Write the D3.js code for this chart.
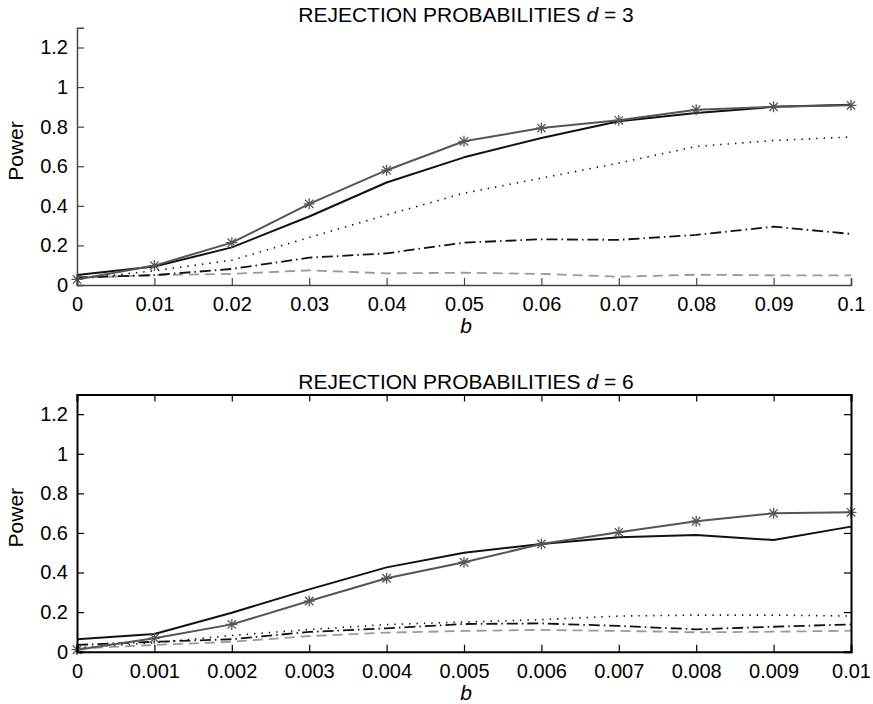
<!DOCTYPE html>
<html lang="en">
<head>
    <meta charset="UTF-8">
    <title>Rejection probabilities</title>
    <script src="https://d3js.org/d3.v7.min.js"></script>
    <style>
        body { margin: 0; background: #fff; }
        svg { display: block; font-family: "Liberation Sans", Arial, Helvetica, sans-serif; }
    </style>
</head>
<body>
<div id="chart"></div>
<script>
// b values on the x axis
const bTop = [0, 0.01, 0.02, 0.03, 0.04, 0.05, 0.06, 0.07, 0.08, 0.09, 0.1];
const bBottom = [0, 0.001, 0.002, 0.003, 0.004, 0.005, 0.006, 0.007, 0.008, 0.009, 0.01];

// d = 3 panel
const starTop    = [0.028, 0.098, 0.214, 0.41, 0.58, 0.726, 0.793, 0.832, 0.886, 0.90, 0.908];
const solidTop   = [0.05, 0.093, 0.19, 0.346, 0.518, 0.645, 0.743, 0.827, 0.869, 0.90, 0.911];
const dottedTop  = [0.03, 0.072, 0.125, 0.24, 0.354, 0.464, 0.54, 0.616, 0.70, 0.73, 0.748];
const dashDotTop = [0.038, 0.05, 0.081, 0.138, 0.16, 0.214, 0.231, 0.228, 0.253, 0.295, 0.258];
const dashedTop  = [0.036, 0.05, 0.056, 0.074, 0.059, 0.062, 0.056, 0.042, 0.052, 0.049, 0.049];

// d = 6 panel
const starBottom    = [0.01, 0.068, 0.138, 0.256, 0.371, 0.452, 0.544, 0.603, 0.659, 0.699, 0.704];
const solidBottom   = [0.063, 0.089, 0.197, 0.315, 0.426, 0.50, 0.544, 0.578, 0.59, 0.564, 0.632];
const dottedBottom  = [0.02, 0.045, 0.082, 0.112, 0.137, 0.15, 0.162, 0.18, 0.185, 0.185, 0.18];
const dashDotBottom = [0.034, 0.05, 0.063, 0.10, 0.118, 0.14, 0.143, 0.13, 0.113, 0.126, 0.138];
const dashedBottom  = [0.015, 0.034, 0.05, 0.079, 0.096, 0.105, 0.11, 0.105, 0.098, 0.101, 0.106];

const yTicks = [0, 0.2, 0.4, 0.6, 0.8, 1, 1.2];

const width = 873, height = 704;
const svg = d3.select("#chart").append("svg")
    .attr("width", width)
    .attr("height", height);

// line styles for the five series
const styles = [
    { key: "star",    color: "#555", width: 2,   dash: null },
    { key: "solid",   color: "#111", width: 2,   dash: null },
    { key: "dotted",  color: "#111", width: 1.6, dash: "1.4,6" },
    { key: "dashDot", color: "#111", width: 1.8, dash: "11,4,1.5,4" },
    { key: "dashed",  color: "#999", width: 1.8, dash: "10,6" }
];

function drawPanel(opts) {
    const x = d3.scaleLinear().domain([opts.bs[0], opts.bs[opts.bs.length - 1]]).range([77, 851]);
    const y = d3.scaleLinear().domain([0, 1.3]).range([opts.bottom, opts.bottom - 257.3]);
    const g = svg.append("g");
    const axisColor = opts.box ? "#000" : "#444";
    const axisWidth = opts.box ? 2 : 1.5;

    // series
    const line = d3.line().x((d, i) => x(opts.bs[i])).y(d => y(d));
    const seriesOrder = ["dashed", "dashDot", "dotted", "solid", "star"];
    seriesOrder.forEach(k => {
        const st = styles.find(s => s.key === k);
        g.append("path")
            .attr("d", line(opts.series[k]))
            .attr("fill", "none")
            .attr("stroke", st.color)
            .attr("stroke-width", st.width)
            .attr("stroke-dasharray", st.dash)
            .attr("stroke-linejoin", "round");
    });

    // asterisk markers
    const r = 5.5, rd = 4.2;
    g.selectAll(".star")
        .data(opts.series.star)
        .join("path")
        .attr("transform", (d, i) => `translate(${x(opts.bs[i])},${y(d)})`)
        .attr("d", `M${-r},0H${r}M0,${-r}V${r}M${-rd},${-rd}L${rd},${rd}M${-rd},${rd}L${rd},${-rd}`)
        .attr("stroke", "#555")
        .attr("stroke-width", 1.3)
        .attr("fill", "none");

    // axes (ticks inward)
    const xAxis = d3.axisBottom(x).tickValues(opts.bs).tickSize(-7).tickPadding(12)
        .tickFormat(d => opts.fmt(d));
    const yAxis = d3.axisLeft(y).tickValues(yTicks).tickSize(-7).tickPadding(12)
        .tickFormat(d => d3.format("~g")(d));

    const xa = g.append("g").attr("transform", `translate(0,${opts.bottom})`).call(xAxis);
    const ya = g.append("g").attr("transform", "translate(77,0)").call(yAxis);

    if (opts.box) {
        g.append("g").attr("transform", `translate(0,${y(1.3)})`)
            .call(d3.axisTop(x).tickValues(opts.bs).tickSize(-7).tickFormat(""));
        g.append("g").attr("transform", "translate(851,0)")
            .call(d3.axisRight(y).tickValues(yTicks).tickSize(-7).tickFormat(""));
    }

    g.selectAll(".domain").attr("stroke", axisColor).attr("stroke-width", axisWidth);
    g.selectAll(".tick line").attr("stroke", axisColor).attr("stroke-width", 1.2);
    g.selectAll(".tick text")
        .attr("fill", "#000")
        .style("font-size", "20px")
        .style("font-family", "'Liberation Sans', Arial, sans-serif");
    ya.selectAll(".tick text").attr("dx", "0.15em");
    xa.selectAll(".tick text").attr("dy", "0.7em");

    // title
    const title = g.append("text")
        .attr("x", 466)
        .attr("y", opts.bottom - 263)
        .attr("text-anchor", "middle")
        .style("font-size", "21px");
    title.append("tspan").text("REJECTION PROBABILITIES ");
    title.append("tspan").attr("font-style", "italic").text("d");
    title.append("tspan").text(" = " + opts.d);

    // axis labels
    g.append("text")
        .attr("transform", `translate(23,${opts.bottom - 134}) rotate(-90)`)
        .attr("text-anchor", "middle")
        .style("font-size", "21px")
        .text("Power");
    g.append("text")
        .attr("x", 466)
        .attr("y", opts.bottom + 48)
        .attr("text-anchor", "middle")
        .attr("font-style", "italic")
        .style("font-size", "21px")
        .text("b");
}

drawPanel({
    bs: bTop, bottom: 285, d: 3, box: false,
    fmt: d3.format("~g"),
    series: { star: starTop, solid: solidTop, dotted: dottedTop, dashDot: dashDotTop, dashed: dashedTop }
});

drawPanel({
    bs: bBottom, bottom: 651.7, d: 6, box: true,
    fmt: d3.format("~g"),
    series: { star: starBottom, solid: solidBottom, dotted: dottedBottom, dashDot: dashDotBottom, dashed: dashedBottom }
});
</script>
</body>
</html>
